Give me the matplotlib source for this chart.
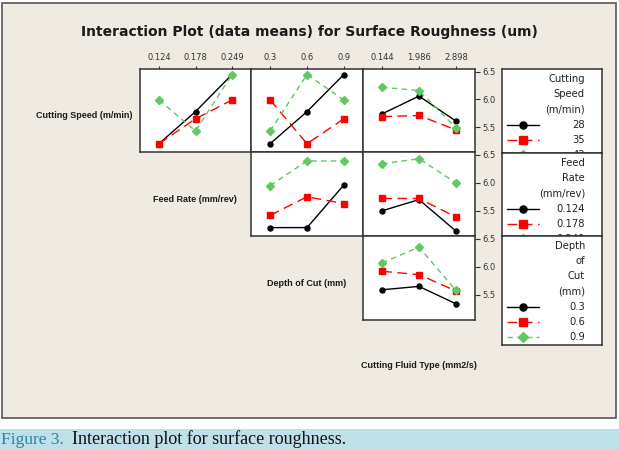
import matplotlib.pyplot as plt
from matplotlib.patches import Rectangle
from matplotlib.lines import Line2D

W, H = 619, 450

# factor levels
speed_levels = ['28', '35', '42']
feed_levels = ['0.124', '0.178', '0.249']
depth_levels = ['0.3', '0.6', '0.9']
fluid_levels = ['0.144', '1.986', '2.898']

# mean surface roughness (um), one row per level of the legend factor
speed_by_feed = [[5.20, 5.78, 6.45], [5.20, 5.65, 5.99], [5.99, 5.43, 6.45]]
speed_by_depth = [[5.20, 5.78, 6.45], [5.99, 5.20, 5.65], [5.43, 6.45, 5.99]]
speed_by_fluid = [[5.74, 6.06, 5.61], [5.69, 5.71, 5.45], [6.22, 6.16, 5.49]]
feed_by_depth = [[5.20, 5.20, 5.96], [5.42, 5.75, 5.63], [5.95, 6.39, 6.39]]
feed_by_fluid = [[5.50, 5.70, 5.14], [5.72, 5.72, 5.39], [6.34, 6.43, 6.00]]
depth_by_fluid = [[5.59, 5.65, 5.34], [5.92, 5.86, 5.57], [6.07, 6.35, 5.58]]

y_ticks = [5.5, 6.0, 6.5]

styles = [
    dict(color='black', marker='o', markersize=3.6, linestyle='-'),
    dict(color='#ff0000', marker='s', markersize=4, linestyle=(0, (7, 4))),
    dict(color='#62c862', marker='D', markersize=3.8, linestyle=(0, (4, 3))),
]

BG = '#efebe2'


def px(x0, y0, x1, y1):
    return [x0 / W, 1 - y1 / H, (x1 - x0) / W, (y1 - y0) / H]


fig = plt.figure(figsize=(W / 100, H / 100), dpi=100)
fig.patch.set_facecolor('white')

# beige frame
fig.patches.append(Rectangle((2 / W, 1 - 418 / H), 614 / W, 415 / H,
                             transform=fig.transFigure, facecolor=BG,
                             edgecolor='#555555', linewidth=1.2, zorder=-10))
# caption band
fig.patches.append(Rectangle((0, 0), 1, 21 / H, transform=fig.transFigure,
                             facecolor='#bde0ea', edgecolor='none', zorder=-10))

fig.text(309 / W, 1 - 32 / H,
         'Interaction Plot (data means) for Surface Roughness (um)',
         ha='center', va='center', fontsize=10, fontweight='bold',
         color='#1a1a1a')

cols = [140, 251, 363, 475]
rows = [69, 152, 236, 320]

panels = [
    (0, 0, speed_by_feed, feed_levels),
    (0, 1, speed_by_depth, depth_levels),
    (0, 2, speed_by_fluid, fluid_levels),
    (1, 1, feed_by_depth, depth_levels),
    (1, 2, feed_by_fluid, fluid_levels),
    (2, 2, depth_by_fluid, fluid_levels),
]

for r, c, means, xlabels in panels:
    ax = fig.add_axes(px(cols[c], rows[r], cols[c + 1], rows[r + 1]))
    ax.set_facecolor('white')
    for i, series in enumerate(means):
        ax.plot(range(len(xlabels)), series, linewidth=1, **styles[i])
    ax.set_xlim(-0.52, 2.52)
    ax.set_ylim(5.05, 6.55)
    for sp in ax.spines.values():
        sp.set_color('#333333')
        sp.set_linewidth(1.1)
    ax.set_xticks(range(len(xlabels)))
    if r == 0:
        ax.xaxis.tick_top()
        ax.set_xticklabels(xlabels)
        ax.tick_params(axis='x', length=2, pad=3, labelsize=6,
                       labelcolor='#333333', color='#333333')
    else:
        ax.tick_params(axis='x', length=0, labeltop=False, labelbottom=False)
    ax.set_yticks(y_ticks)
    if c == 2:
        ax.yaxis.tick_right()
        ax.set_yticklabels([f'{v:.1f}' for v in y_ticks])
        ax.tick_params(axis='y', length=3.5, pad=2, labelsize=6,
                       labelcolor='#333333', color='#333333')
    else:
        ax.tick_params(axis='y', length=0, labelleft=False)

# factor names
lab = dict(fontsize=6.5, fontweight='bold', color='#1a1a1a',
           ha='center', va='center', family='Liberation Sans')
fig.text(84 / W, 1 - 116 / H, 'Cutting Speed (m/min)', **lab)
fig.text(195 / W, 1 - 199 / H, 'Feed Rate (mm/rev)', **lab)
fig.text(307 / W, 1 - 283 / H, 'Depth of Cut (mm)', **lab)
fig.text(419 / W, 1 - 366 / H, 'Cutting Fluid Type (mm2/s)', **lab)

# legend boxes
legends = [
    (69, 153, ['Cutting', 'Speed', '(m/min)'], speed_levels),
    (153, 236, ['Feed', 'Rate', '(mm/rev)'], feed_levels),
    (236, 345, ['Depth', 'of', 'Cut', '(mm)'], depth_levels),
]
for top, bottom, title, levels in legends:
    lx = fig.add_axes(px(502, top, 602, bottom))
    lx.set_facecolor('white')
    lx.set_xlim(0, 100)
    lx.set_ylim(bottom - top, 0)
    lx.set_xticks([])
    lx.set_yticks([])
    for sp in lx.spines.values():
        sp.set_color('#333333')
        sp.set_linewidth(1.1)
    lines = title + levels
    for k, txt in enumerate(lines):
        yy = 10 + 15.2 * k
        lx.text(83, yy, txt, ha='right', va='center', fontsize=7.2,
                color='#222222', clip_on=True)
        if k >= len(title):
            st = styles[k - len(title)]
            lx.add_line(Line2D([5, 37], [yy, yy], color=st['color'],
                               linestyle=st['linestyle'], linewidth=1))
            lx.plot([21], [yy], color=st['color'], marker=st['marker'],
                    markersize=st['markersize'] + 1.5, linestyle='none')

fig.text(1 / W, 10.5 / H, 'Figure 3.', fontsize=12.5, color='#2a86a0',
         family='Liberation Serif', va='center', ha='left')
fig.text(72 / W, 10.5 / H, 'Interaction plot for surface roughness.',
         fontsize=13, color='#111111', family='Liberation Serif',
         va='center', ha='left')

fig.savefig('out.png', dpi=100, facecolor=fig.get_facecolor())
